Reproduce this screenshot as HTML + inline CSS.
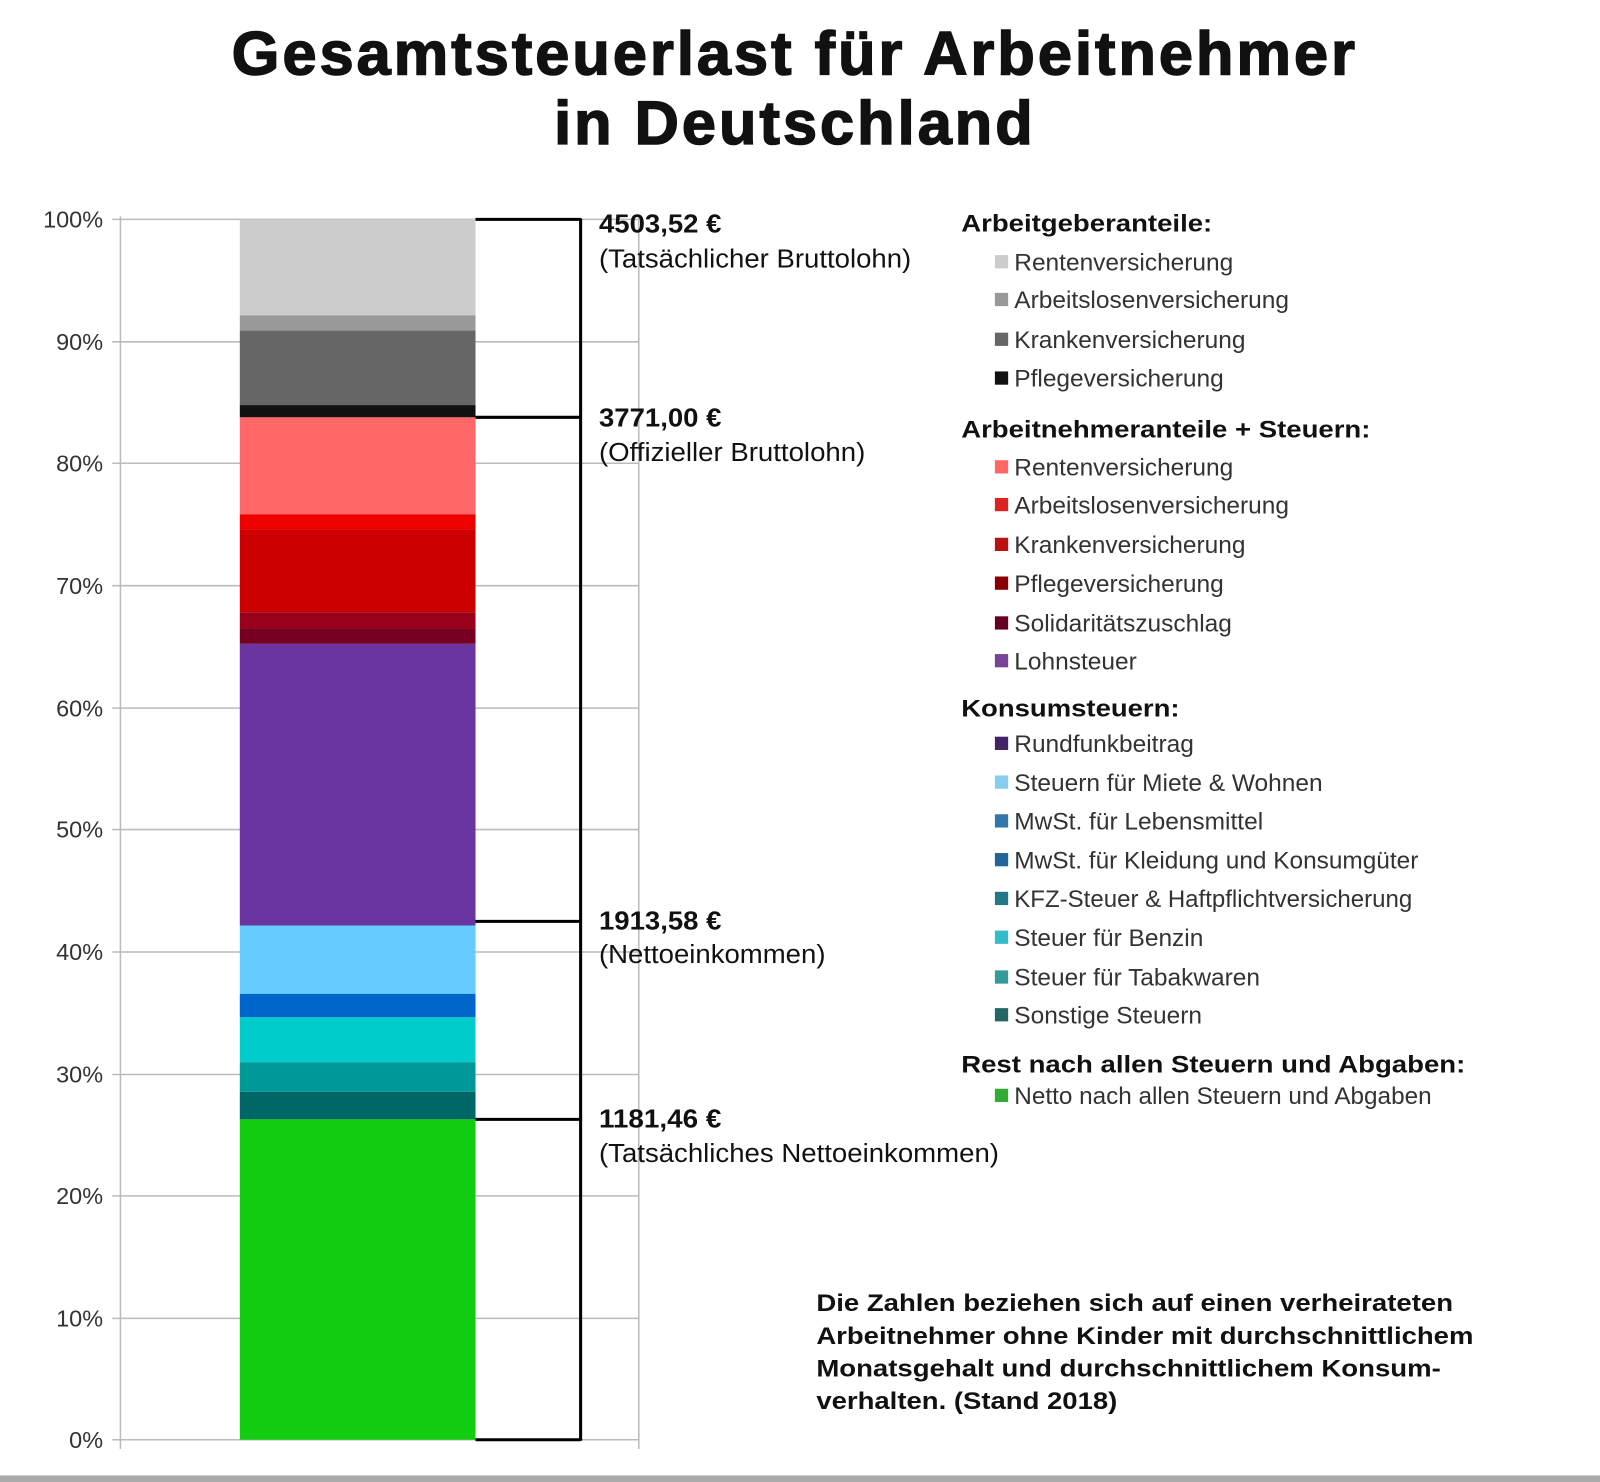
<!DOCTYPE html>
<html><head><meta charset="utf-8"><style>
html,body{margin:0;padding:0;background:#fff;}
svg{display:block;}
text{font-family:"Liberation Sans",Arial,sans-serif;}
</style></head><body>
<svg width="1600" height="1482" viewBox="0 0 1568 1452.4" xmlns="http://www.w3.org/2000/svg">
<rect width="1568" height="1452.4" fill="#fff"/>
<g font-weight="bold" font-size="60" text-anchor="middle" fill="#111" stroke="#111" stroke-width="1.5" letter-spacing="3">
<text x="779" y="73">Gesamtsteuerlast für Arbeitnehmer</text>
<text x="779" y="141">in Deutschland</text>
</g>
<g stroke="#bbb" stroke-width="1.5">
<line x1="110" y1="215" x2="626" y2="215"/><line x1="110" y1="335" x2="626" y2="335"/>
<line x1="110" y1="454" x2="626" y2="454"/><line x1="110" y1="574" x2="626" y2="574"/>
<line x1="110" y1="694" x2="626" y2="694"/><line x1="110" y1="813" x2="626" y2="813"/>
<line x1="110" y1="933" x2="626" y2="933"/><line x1="110" y1="1053" x2="626" y2="1053"/>
<line x1="110" y1="1172" x2="626" y2="1172"/><line x1="110" y1="1292" x2="626" y2="1292"/>
<line x1="110" y1="1411" x2="626" y2="1411"/>
<line x1="118" y1="212" x2="118" y2="1420"/><line x1="626" y1="212" x2="626" y2="1420"/>
</g>
<g font-size="23" fill="#333" text-anchor="end">
<text x="101" y="223">100%</text><text x="101" y="343">90%</text><text x="101" y="462">80%</text>
<text x="101" y="582">70%</text><text x="101" y="702">60%</text><text x="101" y="821">50%</text>
<text x="101" y="941">40%</text><text x="101" y="1061">30%</text><text x="101" y="1180">20%</text>
<text x="101" y="1300">10%</text><text x="101" y="1419">0%</text>
</g>
<g>
<rect x="235" y="215" width="231" height="94" fill="#cccccc"/>
<rect x="235" y="309" width="231" height="15" fill="#999999"/>
<rect x="235" y="324" width="231" height="73" fill="#666666"/>
<rect x="235" y="397" width="231" height="12" fill="#111111"/>
<rect x="235" y="409" width="231" height="95" fill="#ff6666"/>
<rect x="235" y="504" width="231" height="15" fill="#ee0000"/>
<rect x="235" y="519" width="231" height="81" fill="#cc0000"/>
<rect x="235" y="600" width="231" height="16" fill="#99001a"/>
<rect x="235" y="616" width="231" height="15" fill="#770022"/>
<rect x="235" y="631" width="231" height="276" fill="#6a35a0"/>
<rect x="235" y="907" width="231" height="67" fill="#66ccff"/>
<rect x="235" y="974" width="231" height="23" fill="#0066cc"/>
<rect x="235" y="997" width="231" height="44" fill="#00cccc"/>
<rect x="235" y="1041" width="231" height="29" fill="#009999"/>
<rect x="235" y="1070" width="231" height="27" fill="#006666"/>
<rect x="235" y="1097" width="231" height="314" fill="#11cc11"/>
</g>
<g stroke="#000" stroke-width="3" fill="none">
<line x1="569" y1="214" x2="569" y2="1412"/>
<line x1="466" y1="215" x2="569" y2="215"/>
<line x1="466" y1="409" x2="569" y2="409"/>
<line x1="466" y1="903" x2="569" y2="903"/>
<line x1="466" y1="1097" x2="569" y2="1097"/>
<line x1="466" y1="1411" x2="569" y2="1411"/>
</g>
<g font-size="25" fill="#111">
<text x="587" y="228" font-weight="bold" textLength="120" lengthAdjust="spacingAndGlyphs">4503,52 €</text><text x="587" y="262" textLength="306" lengthAdjust="spacingAndGlyphs">(Tatsächlicher Bruttolohn)</text>
<text x="587" y="418" font-weight="bold" textLength="120" lengthAdjust="spacingAndGlyphs">3771,00 €</text><text x="587" y="452" textLength="261" lengthAdjust="spacingAndGlyphs">(Offizieller Bruttolohn)</text>
<text x="587" y="911" font-weight="bold" textLength="120" lengthAdjust="spacingAndGlyphs">1913,58 €</text><text x="587" y="944" textLength="222" lengthAdjust="spacingAndGlyphs">(Nettoeinkommen)</text>
<text x="587" y="1105" font-weight="bold" textLength="120" lengthAdjust="spacingAndGlyphs">1181,46 €</text><text x="587" y="1139" textLength="392" lengthAdjust="spacingAndGlyphs">(Tatsächliches Nettoeinkommen)</text>
</g>
<g font-size="24" fill="#111" font-weight="bold">
<text x="942" y="227" textLength="246" lengthAdjust="spacingAndGlyphs">Arbeitgeberanteile:</text>
<text x="942" y="429" textLength="401" lengthAdjust="spacingAndGlyphs">Arbeitnehmeranteile + Steuern:</text>
<text x="942" y="702" textLength="214" lengthAdjust="spacingAndGlyphs">Konsumsteuern:</text>
<text x="942" y="1051" textLength="494" lengthAdjust="spacingAndGlyphs">Rest nach allen Steuern und Abgaben:</text>
</g>
<g font-size="24" fill="#333">
<rect x="975" y="250" width="13" height="13" fill="#cccccc"/><text x="994" y="265">Rentenversicherung</text>
<rect x="975" y="287" width="13" height="13" fill="#999999"/><text x="994" y="302">Arbeitslosenversicherung</text>
<rect x="975" y="326" width="13" height="13" fill="#666666"/><text x="994" y="341">Krankenversicherung</text>
<rect x="975" y="364" width="13" height="13" fill="#111111"/><text x="994" y="379">Pflegeversicherung</text>
<rect x="975" y="451" width="13" height="13" fill="#ff6666"/><text x="994" y="466">Rentenversicherung</text>
<rect x="975" y="488" width="13" height="13" fill="#dd2222"/><text x="994" y="503">Arbeitslosenversicherung</text>
<rect x="975" y="527" width="13" height="13" fill="#bb1111"/><text x="994" y="542">Krankenversicherung</text>
<rect x="975" y="565" width="13" height="13" fill="#880000"/><text x="994" y="580">Pflegeversicherung</text>
<rect x="975" y="604" width="13" height="13" fill="#660022"/><text x="994" y="619">Solidaritätszuschlag</text>
<rect x="975" y="641" width="13" height="13" fill="#774499"/><text x="994" y="656">Lohnsteuer</text>
<rect x="975" y="722" width="13" height="13" fill="#442266"/><text x="994" y="737">Rundfunkbeitrag</text>
<rect x="975" y="760" width="13" height="13" fill="#88ccee"/><text x="994" y="775">Steuern für Miete &amp; Wohnen</text>
<rect x="975" y="798" width="13" height="13" fill="#3377aa"/><text x="994" y="813">MwSt. für Lebensmittel</text>
<rect x="975" y="836" width="13" height="13" fill="#226699"/><text x="994" y="851" textLength="396" lengthAdjust="spacingAndGlyphs">MwSt. für Kleidung und Konsumgüter</text>
<rect x="975" y="874" width="13" height="13" fill="#227788"/><text x="994" y="889" textLength="390" lengthAdjust="spacingAndGlyphs">KFZ-Steuer &amp; Haftpflichtversicherung</text>
<rect x="975" y="912" width="13" height="13" fill="#33bbcc"/><text x="994" y="927">Steuer für Benzin</text>
<rect x="975" y="951" width="13" height="13" fill="#339999"/><text x="994" y="966">Steuer für Tabakwaren</text>
<rect x="975" y="988" width="13" height="13" fill="#226666"/><text x="994" y="1003">Sonstige Steuern</text>
<rect x="975" y="1067" width="13" height="13" fill="#33aa33"/><text x="994" y="1082" textLength="409" lengthAdjust="spacingAndGlyphs">Netto nach allen Steuern und Abgaben</text>
</g>
<g font-size="24" fill="#111" font-weight="bold">
<text x="800" y="1285" textLength="624" lengthAdjust="spacingAndGlyphs">Die Zahlen beziehen sich auf einen verheirateten</text>
<text x="800" y="1317" textLength="644" lengthAdjust="spacingAndGlyphs">Arbeitnehmer ohne Kinder mit durchschnittlichem</text>
<text x="800" y="1349" textLength="612" lengthAdjust="spacingAndGlyphs">Monatsgehalt und durchschnittlichem Konsum-</text>
<text x="800" y="1381" textLength="295" lengthAdjust="spacingAndGlyphs">verhalten. (Stand 2018)</text>
</g>
<rect x="0" y="1446" width="1568" height="7" fill="#aaa"/>
</svg>
</body></html>
